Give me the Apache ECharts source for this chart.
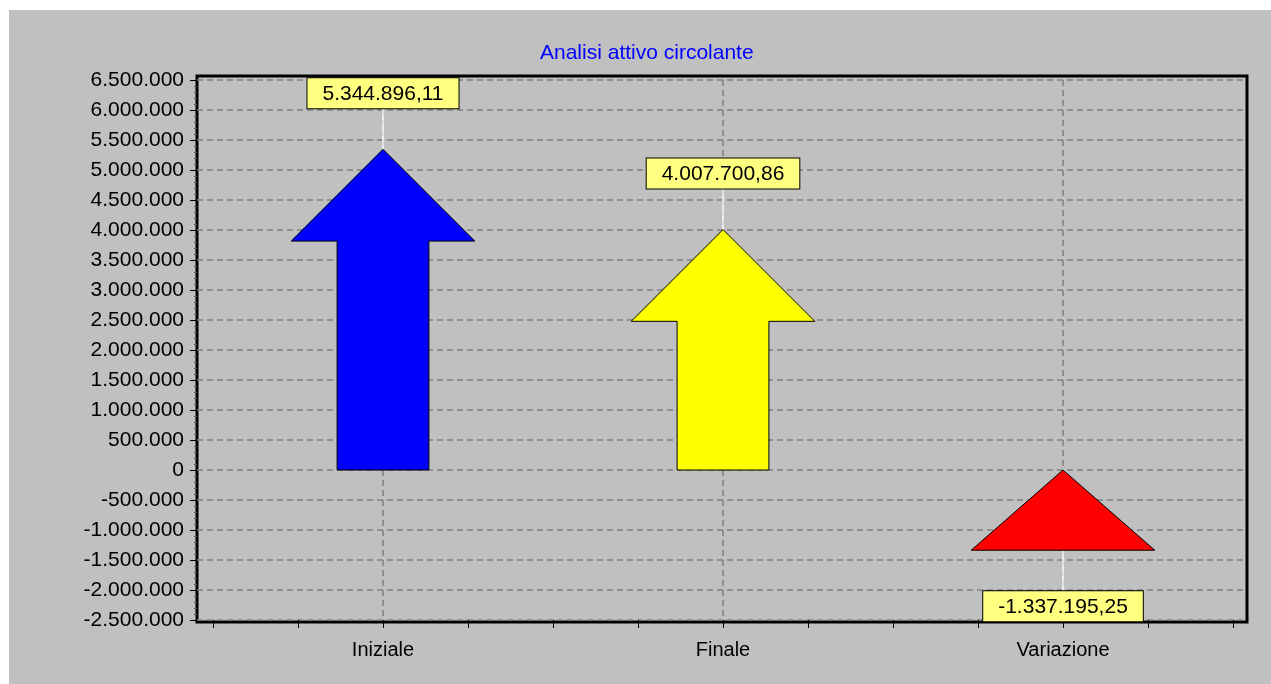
<!DOCTYPE html>
<html>
<head>
<meta charset="utf-8">
<title>Analisi attivo circolante</title>
<script src="https://cdn.jsdelivr.net/npm/echarts@6/dist/echarts.min.js"></script>
<style>
  html, body { margin: 0; padding: 0; background: #ffffff; }
  #panel { position: absolute; left: 9px; top: 10px; right: 0; bottom: 0; background: #c0c0c0; }
  #chart { position: absolute; left: 0; top: 0; width: 1271px; height: 684px; }
</style>
</head>
<body>
<div id="panel"></div>
<div id="chart"></div>
<script>
// Categories and values (euro)
const categories = ['Iniziale', 'Finale', 'Variazione'];
const values = [5344896.11, 4007700.86, -1337195.25];
const colors = ['#0000ff', '#ffff00', '#ff0000'];

// Value axis range and tick step
const yRange = [-2500000, 6500000];
const yStep = 500000;

const FONT = 'Liberation Sans, Arial, sans-serif';

// Italian number formatting: '.' for thousands, ',' for decimals
function fmtIt(n, dec) {
  const neg = n < 0;
  const parts = Math.abs(n).toFixed(dec).split('.');
  const intPart = parts[0].replace(/\B(?=(\d{3})+(?!\d))/g, '.');
  return (neg ? '-' : '') + intPart + (parts[1] ? ',' + parts[1] : '');
}

// Arrow proportions, in category units
const HEAD_HALF = 0.27;
const SHAFT_HALF = 0.135;
const LABEL_GAP = 41;

const chart = echarts.init(document.getElementById('chart'), null, { renderer: 'canvas' });

const option = {
  animation: false,
  title: {
    text: 'Analisi attivo circolante',
    left: 535,
    top: 38,
    textStyle: { color: '#0000ff', fontSize: 21, fontWeight: 'normal', fontFamily: FONT }
  },
  grid: [
    // value scale + horizontal grid lines
    { left: 197, right: 24, top: 80, bottom: 64 },
    // category positions
    { left: 213, right: 38, top: 80, bottom: 64 },
    // plot frame
    { left: 197, right: 24, top: 76, bottom: 62, show: true, borderColor: '#000', borderWidth: 3, backgroundColor: 'transparent' }
  ],
  xAxis: [
    { gridIndex: 0, type: 'value', show: false, min: 0, max: 1 },
    {
      gridIndex: 1,
      type: 'value',
      min: -0.5,
      max: categories.length - 0.5,
      interval: 0.25,
      axisLine: { show: false, onZero: false },
      axisTick: { show: true, length: 8, lineStyle: { color: '#000', width: 1 } },
      axisLabel: {
        margin: 20,
        color: '#000',
        fontSize: 20,
        fontFamily: FONT,
        formatter: function (v) {
          return Number.isInteger(v) && categories[v] !== undefined ? categories[v] : '';
        }
      },
      splitLine: {
        show: true,
        lineStyle: {
          color: ['rgba(0,0,0,0)', 'rgba(0,0,0,0)', '#808080', 'rgba(0,0,0,0)'],
          type: [6, 4],
          width: 1.5
        }
      }
    }
  ],
  yAxis: [
    {
      gridIndex: 0,
      type: 'value',
      min: yRange[0],
      max: yRange[1],
      interval: yStep,
      axisLine: { show: false },
      axisTick: { show: true, length: 7, lineStyle: { color: '#000' } },
      minorTick: { show: true, splitNumber: 5, length: 3, lineStyle: { color: '#555' } },
      axisLabel: {
        margin: 13,
        color: '#000',
        fontSize: 21,
        fontFamily: FONT,
        formatter: function (v) { return fmtIt(v, 0); }
      },
      splitLine: { show: true, lineStyle: { color: '#808080', type: [6, 4], width: 1.5 } }
    },
    { gridIndex: 1, type: 'value', show: false, min: yRange[0], max: yRange[1], interval: yStep }
  ],
  series: [{
    type: 'custom',
    xAxisIndex: 1,
    yAxisIndex: 1,
    z: 5,
    clip: false,
    encode: { x: 0, y: 1 },
    data: values.map(function (v, i) { return [i, v]; }),
    renderItem: function (params, api) {
      const xi = api.value(0);
      const v = api.value(1);
      const zero = api.coord([xi, 0]);
      const end = api.coord([xi, v]);
      const unit = api.size([1, 0])[0];
      const headHalf = unit * HEAD_HALF;
      const shaftHalf = unit * SHAFT_HALF;
      const x = zero[0];
      const top = Math.min(zero[1], end[1]);
      const bottom = Math.max(zero[1], end[1]);
      const headBase = Math.min(top + headHalf, bottom);

      let points;
      if (headBase < bottom) {
        points = [
          [x, top], [x + headHalf, headBase], [x + shaftHalf, headBase],
          [x + shaftHalf, bottom], [x - shaftHalf, bottom],
          [x - shaftHalf, headBase], [x - headHalf, headBase]
        ];
      } else {
        points = [[x, top], [x + headHalf, bottom], [x - headHalf, bottom]];
      }

      const up = v >= 0;
      const boxEdge = end[1] + (up ? -LABEL_GAP : LABEL_GAP);

      return {
        type: 'group',
        children: [
          {
            type: 'line',
            shape: { x1: x, y1: end[1], x2: x, y2: boxEdge },
            style: { stroke: '#ffffff', lineWidth: 1.5 },
            z2: 1
          },
          {
            type: 'polygon',
            shape: { points: points },
            style: { fill: colors[params.dataIndex], stroke: '#000', lineWidth: 1 },
            z2: 2
          },
          {
            type: 'text',
            x: x,
            y: boxEdge,
            style: {
              text: fmtIt(v, 2),
              font: '21px ' + FONT,
              fill: '#000',
              align: 'center',
              verticalAlign: up ? 'bottom' : 'top',
              backgroundColor: '#ffff80',
              borderColor: '#000',
              borderWidth: 1,
              padding: [5, 15, 4, 15]
            },
            z2: 3
          }
        ]
      };
    }
  }]
};

chart.setOption(option);
</script>
</body>
</html>
